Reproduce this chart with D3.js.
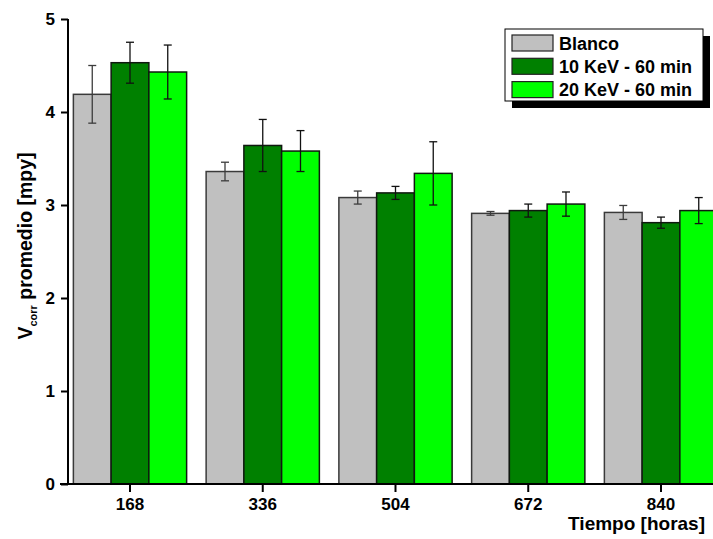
<!DOCTYPE html>
<html>
<head>
<meta charset="utf-8">
<script src="https://cdn.jsdelivr.net/npm/d3@7"></script>
<style>
  html, body { margin: 0; padding: 0; background: #fff; overflow: hidden; }
  svg { display: block; font-family: Arial, "Liberation Sans", sans-serif; font-weight: bold; }
</style>
</head>
<body>
<svg id="chart" width="713" height="539"></svg>
<script>
// Exposure times (hours)
const categories = ["168", "336", "504", "672", "840"];
const seriesNames = ["Blanco", "10 KeV - 60 min", "20 KeV - 60 min"];
const seriesColors = ["#c0c0c0", "#008000", "#00ff00"];

// Mean corrosion rate [mpy] per series
const blanco   = [4.19, 3.36, 3.08, 2.91, 2.92];
const kev10    = [4.53, 3.64, 3.13, 2.94, 2.81];
const kev20    = [4.43, 3.58, 3.34, 3.01, 2.94];

// Standard deviation per series
const blancoErr = [0.31, 0.10, 0.07, 0.02, 0.075];
const kev10Err  = [0.22, 0.28, 0.07, 0.07, 0.06];
const kev20Err  = [0.29, 0.22, 0.34, 0.13, 0.14];

const yTicks = [0, 1, 2, 3, 4, 5];

const values = [blanco, kev10, kev20];
const errors = [blancoErr, kev10Err, kev20Err];

const svg = d3.select("#chart");

const axisX = 68, y0 = 484, y5 = 19;
const step = 132.75, firstCenter = 130;

const x = d3.scaleBand()
  .domain(categories)
  .range([firstCenter - step / 2, firstCenter - step / 2 + step * categories.length])
  .paddingInner(0.147)
  .paddingOuter(0.0735);

const xs = d3.scaleBand()
  .domain(seriesNames)
  .range([0, x.bandwidth()]);

const y = d3.scaleLinear().domain([0, 5]).range([y0, y5]);

// Bars
const groups = svg.append("g").selectAll("g")
  .data(categories)
  .join("g")
  .attr("transform", d => `translate(${x(d)},0)`);

groups.selectAll("rect")
  .data((c, i) => seriesNames.map((s, k) => ({ s, k, v: values[k][i], e: errors[k][i] })))
  .join("rect")
  .attr("x", d => xs(d.s))
  .attr("y", d => y(d.v))
  .attr("width", xs.bandwidth())
  .attr("height", d => y(0) - y(d.v))
  .attr("fill", d => seriesColors[d.k])
  .attr("stroke", d => d.k === 0 ? "#3a3a3a" : "#101810")
  .attr("stroke-width", 1.5);

// Error bars
const eb = groups.selectAll("g.err")
  .data((c, i) => seriesNames.map((s, k) => ({ s, k, v: values[k][i], e: errors[k][i] })))
  .join("g")
  .attr("class", "err")
  .attr("stroke", d => d.k === 0 ? "#3c3c3c" : "#111")
  .attr("stroke-width", 1.3);

eb.append("line")
  .attr("x1", d => xs(d.s) + xs.bandwidth() / 2)
  .attr("x2", d => xs(d.s) + xs.bandwidth() / 2)
  .attr("y1", d => y(d.v + d.e))
  .attr("y2", d => y(d.v - d.e));
eb.selectAll("line.cap")
  .data(d => [d.v + d.e, d.v - d.e].map(t => ({ t, cx: xs(d.s) + xs.bandwidth() / 2 })))
  .join("line")
  .attr("class", "cap")
  .attr("x1", d => d.cx - 4)
  .attr("x2", d => d.cx + 4)
  .attr("y1", d => y(d.t))
  .attr("y2", d => y(d.t));

// Y axis
const yAxis = svg.append("g").attr("transform", `translate(${axisX},0)`);
yAxis.call(d3.axisLeft(y).tickValues(d3.range(0, 5.0001, 0.2)).tickSize(4).tickFormat(""))
  .call(g => g.select(".domain").remove())
  .call(g => g.selectAll("line").attr("stroke", "#000").attr("stroke-width", 1.5));
yAxis.call(d3.axisLeft(y).tickValues(yTicks).tickSize(7).tickPadding(6).tickFormat(d3.format("d")))
  .call(g => g.select(".domain").remove())
  .call(g => g.selectAll("line").attr("stroke", "#000").attr("stroke-width", 2))
  .call(g => g.selectAll("text").attr("font-size", 17).attr("font-weight", "bold")
    .attr("font-family", "Arial, 'Liberation Sans', sans-serif").attr("fill", "#000"));
yAxis.append("line").attr("x1", 0).attr("x2", 0).attr("y1", y5).attr("y2", y0 + 1)
  .attr("stroke", "#000").attr("stroke-width", 2);

// X axis
const xAxis = svg.append("g").attr("transform", `translate(0,${y0})`);
xAxis.call(d3.axisBottom(x).tickSize(8).tickPadding(6).tickSizeOuter(0))
  .call(g => g.select(".domain").remove())
  .call(g => g.selectAll("line").attr("stroke", "#000").attr("stroke-width", 2))
  .call(g => g.selectAll("text").attr("font-size", 17).attr("font-weight", "bold")
    .attr("font-family", "Arial, 'Liberation Sans', sans-serif").attr("fill", "#000"));
xAxis.append("line").attr("x1", 60).attr("x2", 713).attr("y1", 0).attr("y2", 0)
  .attr("stroke", "#000").attr("stroke-width", 2);

// Axis titles
svg.append("text")
  .attr("x", 705).attr("y", 530)
  .attr("text-anchor", "end")
  .attr("font-size", 19)
  .text("Tiempo [horas]");

const yTitle = svg.append("text")
  .attr("transform", "translate(32,246) rotate(-90)")
  .attr("text-anchor", "middle")
  .attr("font-size", 19.5);
yTitle.append("tspan").text("V");
yTitle.append("tspan").attr("font-size", 11).attr("dy", 5).text("corr");
yTitle.append("tspan").attr("dy", -5).text(" promedio [mpy]");

// Legend
const legend = svg.append("g");
legend.append("rect").attr("x", 512).attr("y", 36).attr("width", 198).attr("height", 72).attr("fill", "#000");
legend.append("rect").attr("x", 505).attr("y", 29).attr("width", 198).attr("height", 72)
  .attr("fill", "#fff").attr("stroke", "#000").attr("stroke-width", 1);
const items = legend.selectAll("g.item")
  .data(seriesNames)
  .join("g")
  .attr("class", "item")
  .attr("transform", (d, i) => `translate(0,${43 + i * 23.3})`);
items.append("rect")
  .attr("x", 512).attr("y", -8).attr("width", 41).attr("height", 16)
  .attr("fill", (d, i) => seriesColors[i])
  .attr("stroke", "#222").attr("stroke-width", 1.2);
items.append("text")
  .attr("x", 559).attr("y", 6.5)
  .attr("font-size", 18)
  .text(d => d);
</script>
</body>
</html>
